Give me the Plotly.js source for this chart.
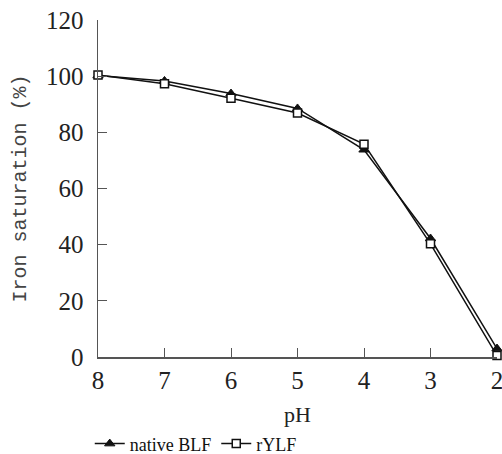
<!DOCTYPE html>
<html><head><meta charset="utf-8">
<script src="https://cdn.plot.ly/plotly-3.0.1.min.js"></script>
<style>html,body{margin:0;padding:0;background:#fff}</style>
</head><body><div id="chart" style="width:502px;height:454px"></div>
<script>
var pH = [8, 7, 6, 5, 4, 3, 2];
var nativeBLF = [100.2, 98.3, 93.8, 88.5, 73.8, 42.2, 3.0];
var rYLF = [100.4, 97.3, 92.1, 86.9, 75.8, 40.3, 0.5];
var yTicks = [0, 20, 40, 60, 80, 100, 120];
var xTitle = 'pH';
var yTitle = 'Iron saturation (%)';

var serif = '"Liberation Serif", "Times New Roman", serif';
var mono = '"Liberation Mono", "Courier New", monospace';
var traces = [
  {x: pH, y: nativeBLF, name: 'native BLF', type: 'scatter', mode: 'lines+markers',
   line: {color: '#111', width: 1.5},
   marker: {symbol: 'triangle-up', size: 9, color: '#111', line: {color: '#111', width: 1}},
   cliponaxis: false},
  {x: pH, y: rYLF, name: 'rYLF', type: 'scatter', mode: 'lines+markers',
   line: {color: '#111', width: 1.5},
   marker: {symbol: 'square', size: 8, color: '#fff', line: {color: '#111', width: 1.5}},
   cliponaxis: false}
];
var layout = {
  width: 502, height: 454,
  margin: {l: 98, r: 5, t: 20, b: 97},
  paper_bgcolor: '#fff', plot_bgcolor: '#fff',
  showlegend: true,
  legend: {orientation: 'h', x: 0.245, xanchor: 'center', yref: 'container', y: 0.063, yanchor: 'top',
           font: {family: serif, size: 18, color: '#111'}, itemwidth: 30, tracegroupgap: 0,
           borderwidth: 0, bgcolor: 'rgba(0,0,0,0)'},
  annotations: [{text: xTitle, xref: 'paper', yref: 'paper', x: 0.5, y: -0.172,
                 xanchor: 'center', yanchor: 'middle', showarrow: false,
                 font: {family: serif, size: 22, color: '#222'}}],
  xaxis: {range: [8, 2], autorange: false, tickvals: pH, ticks: 'inside', ticklen: 9,
          tickcolor: '#555', showline: true, linecolor: '#555', linewidth: 1.5,
          showgrid: false, zeroline: false, automargin: false, ticklabeloverflow: 'allow',
          tickfont: {family: serif, size: 25, color: '#222'}},
  yaxis: {range: [0, 120], autorange: false, tickvals: yTicks, ticks: 'inside', ticklen: 9,
          tickcolor: '#555', showline: true, linecolor: '#555', linewidth: 1.5,
          showgrid: false, zeroline: false, automargin: false, ticklabelstandoff: 8,
          tickfont: {family: serif, size: 25, color: '#222'},
          title: {text: yTitle, font: {family: mono, size: 20, color: '#444'}, standoff: 14}}
};
Plotly.newPlot('chart', traces, layout, {displayModeBar: false, staticPlot: true});
</script></body></html>
